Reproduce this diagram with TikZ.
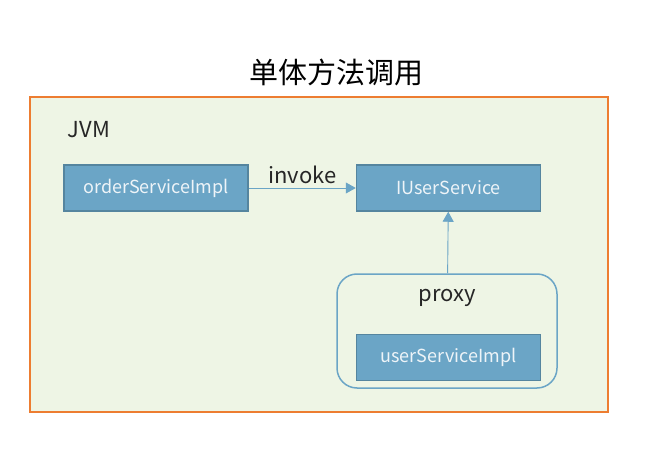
\documentclass[tikz,border=0pt]{standalone}
\usepackage{fontspec}
\setmainfont{Noto Sans CJK SC}
\usetikzlibrary{arrows.meta, positioning}

\definecolor{boxfill}{HTML}{6BA5C6}
\definecolor{boxline}{HTML}{55859F}
\definecolor{jvmfill}{HTML}{EEF5E5}
\definecolor{jvmline}{HTML}{ED7D31}
\definecolor{textlight}{HTML}{EEF4F8}

\tikzset{
  svc/.style={draw=boxline, line width=1.5pt, fill=boxfill,
    minimum width=184pt, minimum height=46pt, inner sep=0pt,
    text=textlight, font=\fontsize{18}{22}\selectfont},
  lbl/.style={text=black!85, font=\fontsize{22}{26}\selectfont},
  flow/.style={draw=boxfill, line width=0.9pt, -{Triangle[width=11pt,length=10pt]}}
}

\begin{document}
\begin{tikzpicture}[x=1pt, y=1pt]
  \useasboundingbox (0,0) rectangle (648,448);

  \node[font=\fontsize{29}{34}\selectfont] (title) at (336,376) {单体方法调用};
  \draw[jvmline, line width=1.5pt, fill=jvmfill] (30,351) rectangle (608,36);
  \node[lbl] (jvm) at (89,318) {JVM};

  \node[svc] (order) at (156,260) {orderServiceImpl};
  \node[svc, right=107pt of order] (iuser) {IUserService};
  \node[draw=boxfill, line width=1.5pt, rounded corners=20pt,
    minimum width=220pt, minimum height=114pt] (proxy) at (447,117) {};
  \node[lbl] (proxylbl) at (447,150) {proxy};
  \node[svc, below=122pt of iuser] (userimpl) {userServiceImpl};

  \draw[flow] (order) -- (iuser) node[lbl, midway, above=0pt] {invoke};
  \draw[flow] (proxy) -- (iuser);
\end{tikzpicture}
\end{document}
